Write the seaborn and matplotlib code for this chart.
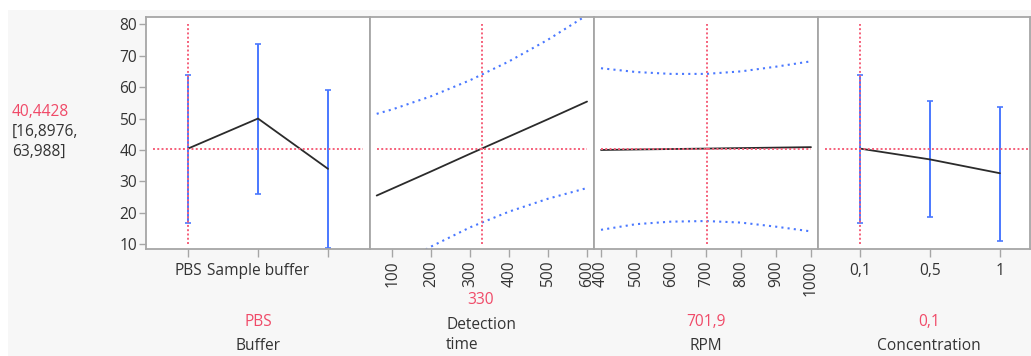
import numpy as np
import pandas as pd
import matplotlib
matplotlib.use("Agg")
import matplotlib.pyplot as plt
import seaborn as sns

# ---------------- data ----------------
pred_value = "40,4428"
pred_ci = ["[16,8976,", "63,988]"]
y_ticks = [10, 20, 30, 40, 50, 60, 70, 80]
y_current = 40.4428

buffer_levels = ["PBS", "Sample buffer", ""]
buffer_mean = [40.44, 50.0, 34.0]
buffer_lo = [16.90, 26.1, 8.7]
buffer_hi = [63.99, 73.6, 59.0]

detect_x = [60, 100, 200, 300, 400, 500, 600]
detect_mean = [25.5, 27.7, 33.2, 38.8, 44.3, 49.8, 55.4]
detect_hi = [51.5, 52.9, 57.1, 62.2, 68.2, 75.1, 82.9]
detect_lo = [-0.5, 2.5, 9.3, 15.4, 20.4, 24.5, 27.9]
detect_ticks = [100, 200, 300, 400, 500, 600]

rpm_x = [400, 500, 600, 700, 800, 900, 1000]
rpm_mean = [40.0, 40.15, 40.3, 40.44, 40.6, 40.75, 40.9]
rpm_hi = [66.0, 64.8, 64.2, 64.2, 65.0, 66.5, 68.2]
rpm_lo = [14.6, 16.4, 17.2, 17.4, 16.9, 15.6, 14.1]
rpm_ticks = [400, 500, 600, 700, 800, 900, 1000]

conc_levels = ["0,1", "0,5", "1"]
conc_mean = [40.44, 37.0, 32.6]
conc_lo = [16.90, 18.6, 11.2]
conc_hi = [63.99, 55.6, 53.7]

factor_names = ["Buffer", "Detection\ntime", "RPM", "Concentration"]
factor_current = ["PBS", "330", "701,9", "0,1"]
current_x = [0, 330, 701.9, 0]

# ---------------- style ----------------
sns.set_theme(style="white")
plt.rcParams["font.family"] = ["Open Sans", "DejaVu Sans"]

RED_TXT = "#f04a68"
RED = "#f5607a"
BLUE = "#4a78ff"
BLACK = "#2b2b2b"
GREY = "#a6a6a6"
TXT = "#333333"
FS = 11.2

W, H = 1031, 356
fig = plt.figure(figsize=(W / 100, H / 100), dpi=100)
fig.patch.set_facecolor("white")
fig.add_artist(plt.Rectangle((8 / W, 0), 1, 1 - 10 / H, transform=fig.transFigure,
                             facecolor="#f7f7f7", edgecolor="none", zorder=0))

def px_axes(x0, x1, y0=17, y1=249):
    return fig.add_axes([x0 / W, 1 - y1 / H, (x1 - x0) / W, (y1 - y0) / H])

axes = [px_axes(146, 370), px_axes(370, 594), px_axes(594, 818), px_axes(818, 1030)]
ylim = (8.5, 82.3)

for ax in axes:
    ax.set_facecolor("white")
    ax.set_ylim(*ylim)
    for s in ax.spines.values():
        s.set_color(GREY)
        s.set_linewidth(1.3)
    ax.tick_params(axis="both", colors=GREY, labelcolor=TXT, labelsize=FS,
                   length=6, width=1)
    ax.set_yticks([])
    ax.set_xlabel("")
    ax.set_ylabel("")

axes[0].set_yticks(y_ticks)
axes[0].set_yticklabels([str(v) for v in y_ticks])
axes[0].tick_params(axis="y", left=True, pad=1.5, length=5)

red_kw = dict(color=RED, lw=1.4, linestyle=(0, (1, 1.2)), zorder=4)
ci_kw = dict(color=BLUE, lw=1.5, linestyle=(0, (1, 2)), zorder=2)

def categorical(ax, levels, mean, lo, hi, xlim):
    pos = np.arange(len(levels))
    ax.errorbar(pos, mean, yerr=[np.array(mean) - np.array(lo), np.array(hi) - np.array(mean)],
                fmt="none", ecolor=BLUE, elinewidth=1.4, capsize=2.5, capthick=1.2, zorder=2)
    sns.lineplot(x=pos, y=mean, ax=ax, color=BLACK, lw=1.3, zorder=3)
    ax.set_xlim(*xlim)
    ax.set_xticks(pos)
    ax.set_xticklabels(levels)
    ax.tick_params(axis="x", bottom=True, pad=4, length=6)
    ax.plot([-0.5, 2.5], [y_current, y_current], **red_kw)
    ax.plot([0, 0], [10, 80], **red_kw)

categorical(axes[0], buffer_levels, buffer_mean, buffer_lo, buffer_hi, (-0.6, 2.6))
categorical(axes[3], conc_levels, conc_mean, conc_lo, conc_hi, (-0.6, 2.43))

def continuous(ax, x, mean, lo, hi, ticks, xlim, cur):
    df = pd.DataFrame({"x": x, "mean": mean, "lo": lo, "hi": hi})
    sns.lineplot(data=df, x="x", y="mean", ax=ax, color=BLACK, lw=1.3, zorder=3)
    sns.lineplot(data=df, x="x", y="hi", ax=ax, **ci_kw)
    sns.lineplot(data=df, x="x", y="lo", ax=ax, **ci_kw)
    ax.set_xlim(*xlim)
    ax.set_ylim(*ylim)
    ax.set_xticks(ticks)
    ax.set_xticklabels([str(t) for t in ticks], rotation=90)
    ax.tick_params(axis="x", bottom=True, pad=2, length=6)
    ax.plot([x[0], x[-1]], [y_current, y_current], **red_kw)
    ax.plot([cur, cur], [10, 80], **red_kw)
    ax.set_xlabel("")
    ax.set_ylabel("")

continuous(axes[1], detect_x, detect_mean, detect_lo, detect_hi, detect_ticks, (42.8, 617.9), current_x[1])
continuous(axes[2], rpm_x, rpm_mean, rpm_lo, rpm_hi, rpm_ticks, (380, 1020), current_x[2])

# left prediction text
fig.text(12 / W, 1 - 112 / H, pred_value, color=RED_TXT, fontsize=FS, ha="left", va="center")
fig.text(12 / W, 1 - 132 / H, pred_ci[0], color=TXT, fontsize=FS, ha="left", va="center")
fig.text(12 / W, 1 - 152 / H, pred_ci[1], color=TXT, fontsize=FS, ha="left", va="center")

# bottom factor labels
centers = [258, 481, 706, 929]
for i, (cx, name, cur) in enumerate(zip(centers, factor_names, factor_current)):
    if "\n" in name:
        fig.text(cx / W, 1 - 300 / H, cur, color=RED_TXT, fontsize=FS, ha="center", va="center")
        fig.text(cx / W, 1 - 335 / H, name, color=TXT, fontsize=FS, ha="center", va="center",
                 multialignment="left", linespacing=1.4)
    else:
        fig.text(cx / W, 1 - 322 / H, cur, color=RED_TXT, fontsize=FS, ha="center", va="center")
        fig.text(cx / W, 1 - 346 / H, name, color=TXT, fontsize=FS, ha="center", va="center")

fig.savefig("out.png", dpi=100, facecolor=fig.get_facecolor())
